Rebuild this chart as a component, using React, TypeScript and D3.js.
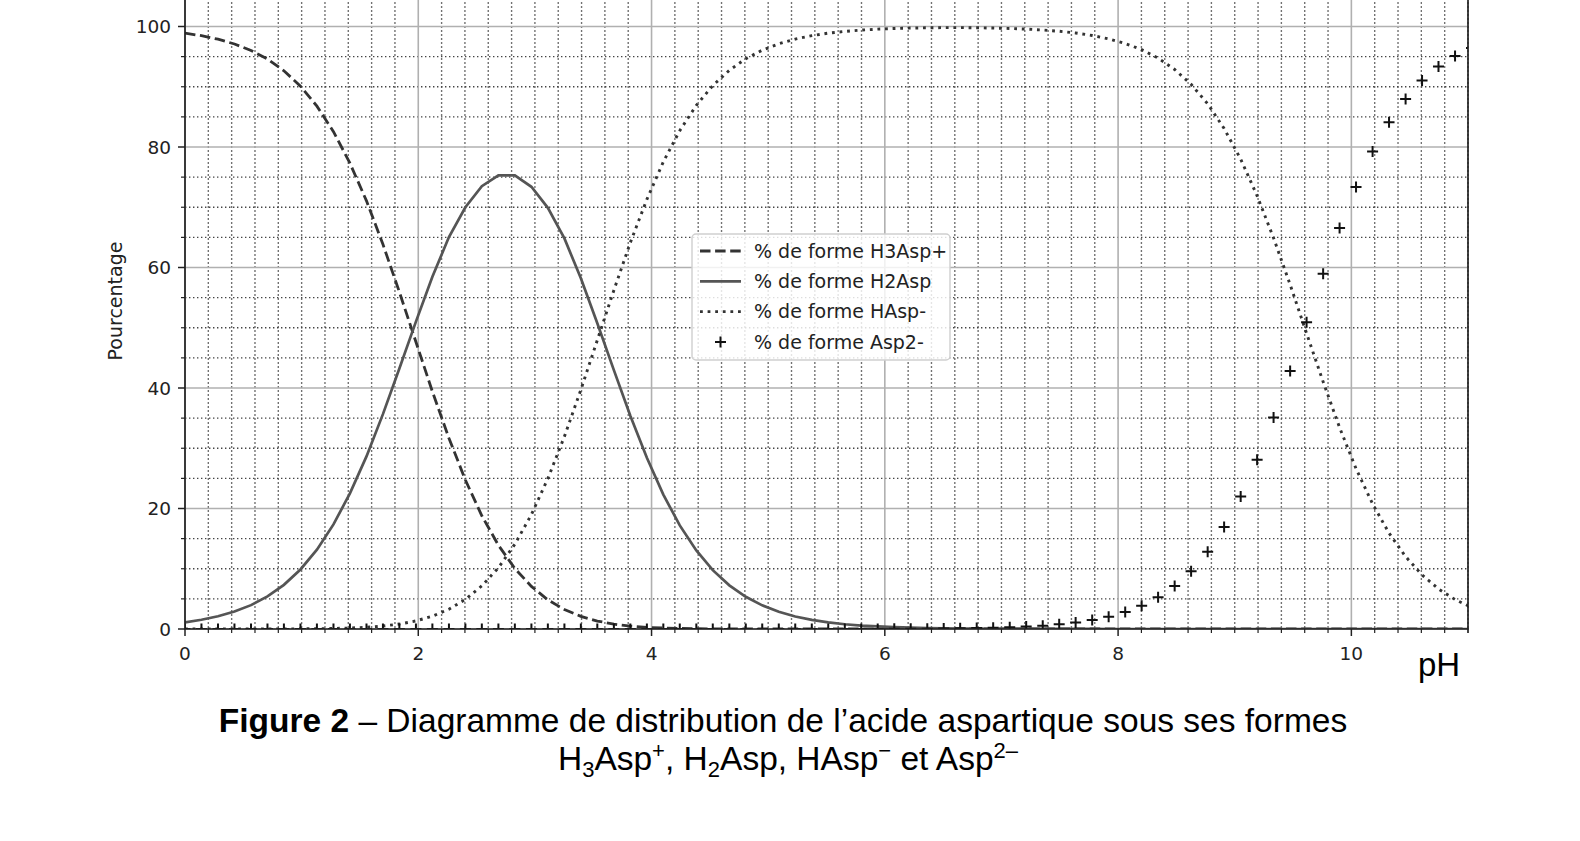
import * as d3 from "d3";

// pH sampling of the original figure (visible part, up to the right edge)
const phValues = [
  0, 0.141, 0.283, 0.424, 0.566, 0.707, 0.848, 0.99, 1.131, 1.273, 1.414, 1.556, 1.697, 1.838, 1.98, 2.121, 2.263, 2.404,
  2.545, 2.687, 2.828, 2.97, 3.111, 3.253, 3.394, 3.535, 3.677, 3.818, 3.96, 4.101, 4.242, 4.384, 4.525, 4.667, 4.808,
  4.949, 5.091, 5.232, 5.374, 5.515, 5.657, 5.798, 5.939, 6.081, 6.222, 6.364, 6.505, 6.646, 6.788, 6.929, 7.071, 7.212,
  7.354, 7.495, 7.636, 7.778, 7.919, 8.061, 8.202, 8.343, 8.485, 8.626, 8.768, 8.909, 9.051, 9.192, 9.333, 9.475, 9.616,
  9.758, 9.899, 10.04, 10.182, 10.323, 10.465, 10.606, 10.747, 10.889, 11.03,
];

const h3Asp = [
  98.89, 98.47, 97.89, 97.1, 96.03, 94.59, 92.65, 90.1, 86.78, 82.55, 77.32, 71.06, 63.85, 55.93, 47.64, 39.41, 31.67,
  24.73, 18.79, 13.91, 10.04, 7.07, 4.84, 3.23, 2.09, 1.32, 0.81, 0.48, 0.28, 0.16, 0.09, 0.05, 0.03, 0.01, 0.01, 0, 0,
  0, 0, 0, 0, 0, 0, 0, 0, 0, 0, 0, 0, 0, 0, 0, 0, 0, 0, 0, 0, 0, 0, 0, 0, 0, 0, 0, 0, 0, 0, 0, 0, 0, 0, 0, 0, 0, 0, 0,
  0, 0, 0,
];

const h2Asp = [
  1.11, 1.53, 2.11, 2.89, 3.96, 5.41, 7.33, 9.88, 13.17, 17.36, 22.51, 28.65, 35.66, 43.25, 51.02, 58.46, 65.05, 70.0,
  73.5, 75.3, 75.3, 73.4, 69.9, 64.83, 58.2, 50.74, 42.97, 35.39, 28.41, 22.31, 17.19, 13.04, 9.77, 7.25, 5.35, 3.92,
  2.86, 2.08, 1.51, 1.1, 0.79, 0.57, 0.42, 0.3, 0.22, 0.16, 0.11, 0.08, 0.06, 0.04, 0.03, 0.02, 0.02, 0.01, 0.01, 0.01,
  0, 0, 0, 0, 0, 0, 0, 0, 0, 0, 0, 0, 0, 0, 0, 0, 0, 0, 0, 0, 0, 0, 0,
];

const hAsp = [
  0, 0, 0, 0, 0, 0.01, 0.01, 0.03, 0.05, 0.09, 0.16, 0.28, 0.49, 0.82, 1.34, 2.13, 3.28, 4.91, 7.16, 10.17, 14.07, 18.99,
  24.97, 31.94, 39.71, 47.94, 56.22, 64.13, 71.31, 77.53, 82.72, 86.91, 90.2, 92.73, 94.65, 96.08, 97.13, 97.91, 98.48,
  98.9, 99.19, 99.41, 99.56, 99.67, 99.74, 99.79, 99.81, 99.81, 99.79, 99.74, 99.67, 99.57, 99.42, 99.21, 98.92, 98.51,
  97.95, 97.19, 96.15, 94.75, 92.87, 90.4, 87.17, 83.07, 77.99, 71.9, 64.89, 57.16, 49.07, 41.03, 33.44, 26.62, 20.76,
  15.91, 12.02, 8.98, 6.65, 4.89, 3.58,
];

const asp2 = [
  0, 0, 0, 0, 0, 0, 0, 0, 0, 0, 0, 0, 0, 0, 0, 0, 0, 0, 0, 0, 0, 0, 0, 0, 0, 0, 0, 0, 0, 0, 0, 0, 0, 0, 0, 0, 0, 0, 0.01,
  0.01, 0.01, 0.02, 0.02, 0.03, 0.04, 0.06, 0.08, 0.11, 0.15, 0.21, 0.29, 0.41, 0.56, 0.78, 1.08, 1.48, 2.04, 2.81, 3.85,
  5.25, 7.12, 9.6, 12.83, 16.93, 22.01, 28.1, 35.11, 42.84, 50.93, 58.97, 66.56, 73.38, 79.24, 84.09, 87.98, 91.02, 93.35,
  95.11, 96.42,
];

const xMajorTicks = [0, 2, 4, 6, 8, 10];
const yMajorTicks = [0, 20, 40, 60, 80, 100];
const legendLabels = ["% de forme H3Asp+", "% de forme H2Asp", "% de forme HAsp-", "% de forme Asp2-"];

const chartFont = "DejaVu Sans, sans-serif";
const captionFont = "Liberation Sans, Arial, sans-serif";
const dashStyle = "10.5,4.6";
const dotStyle = "2.8,4.8";
const plusPath = "M-5.5,0H5.5M0,-5.5V5.5";

function App() {
  const x = d3.scaleLinear().domain([0, 11]).range([185, 1468]);
  const y = d3.scaleLinear().domain([0, 100]).range([629, 26.5]);
  const top = y(106);

  const minorX = d3.range(0, 56).filter((i) => i % 10 !== 0).map((i) => i * 0.2);
  const minorY = d3.range(0, 22).filter((j) => j % 4 !== 0).map((j) => j * 5);

  const line = (vals: number[]) =>
    d3
      .line<number>()
      .x((_, i) => x(phValues[i]))
      .y((d) => y(d))(vals) || "";

  const legendX = 692;
  const legendY = 234;
  const rowY = (i: number) => legendY + 17 + i * 30.3;

  return (
    <svg
      width={1580}
      height={841}
      style={{ position: "absolute", left: 0, top: 0, background: "#fff" }}
    >
      <defs>
        <clipPath id="plot-clip">
          <rect x={x(0)} y={top} width={x(11) - x(0)} height={y(0) - top} />
        </clipPath>
      </defs>

      {/* grid */}
      <g>
        {minorX.map((v) => (
          <line key={"mx" + v} x1={x(v)} x2={x(v)} y1={top} y2={y(0)} stroke="#444" strokeWidth={1.4} strokeDasharray="1.4,2.6" />
        ))}
        {minorY.map((v) => (
          <line key={"my" + v} x1={x(0)} x2={x(11)} y1={y(v)} y2={y(v)} stroke="#444" strokeWidth={1.4} strokeDasharray="1.4,2.6" />
        ))}
        {xMajorTicks.map((v) => (
          <line key={"gx" + v} x1={x(v)} x2={x(v)} y1={top} y2={y(0)} stroke="#b0b0b0" strokeWidth={1.6} />
        ))}
        {yMajorTicks.map((v) => (
          <line key={"gy" + v} x1={x(0)} x2={x(11)} y1={y(v)} y2={y(v)} stroke="#b0b0b0" strokeWidth={1.6} />
        ))}
      </g>

      {/* curves */}
      <g clipPath="url(#plot-clip)" fill="none">
        <path d={line(h3Asp)} stroke="#333" strokeWidth={2.8} strokeDasharray={dashStyle} />
        <path d={line(h2Asp)} stroke="#555" strokeWidth={2.7} />
        <path d={line(hAsp)} stroke="#333" strokeWidth={2.9} strokeDasharray={dotStyle} />
        {asp2.map((v, i) => (
          <path key={"p" + i} d={plusPath} transform={`translate(${x(phValues[i])},${y(v)})`} stroke="#111" strokeWidth={2} />
        ))}
      </g>

      {/* spines */}
      <g stroke="#222" strokeWidth={1.7}>
        <line x1={x(0)} x2={x(0)} y1={top} y2={y(0)} />
        <line x1={x(11)} x2={x(11)} y1={top} y2={y(0)} />
        <line x1={x(0) - 0.8} x2={x(11) + 0.8} y1={y(0)} y2={y(0)} />
      </g>

      {/* ticks */}
      <g stroke="#222" strokeWidth={1.2}>
        {minorX.concat([11]).map((v) => (
          <line key={"tx" + v} x1={x(v)} x2={x(v)} y1={y(0)} y2={y(0) + 4} />
        ))}
        {minorY.map((v) => (
          <line key={"ty" + v} x1={x(0) - 4} x2={x(0)} y1={y(v)} y2={y(v)} />
        ))}
        {xMajorTicks.map((v) => (
          <line key={"Tx" + v} x1={x(v)} x2={x(v)} y1={y(0)} y2={y(0) + 7} strokeWidth={1.5} />
        ))}
        {yMajorTicks.map((v) => (
          <line key={"Ty" + v} x1={x(0) - 7} x2={x(0)} y1={y(v)} y2={y(v)} strokeWidth={1.5} />
        ))}
      </g>
      <g fontFamily={chartFont} fontSize={18.5} fill="#222">
        {xMajorTicks.map((v) => (
          <text key={"lx" + v} x={x(v)} y={660} textAnchor="middle">
            {v}
          </text>
        ))}
        {yMajorTicks.map((v) => (
          <text key={"ly" + v} x={x(0) - 14} y={y(v) + 6.7} textAnchor="end">
            {v}
          </text>
        ))}
        <text transform="translate(122,301) rotate(-90)" textAnchor="middle" fontSize={19}>
          Pourcentage
        </text>
      </g>

      {/* legend */}
      <g fontFamily={chartFont} fontSize={19} fill="#222">
        <rect x={legendX} y={legendY} width={258} height={126} rx={4} fill="#fff" fillOpacity={0.82} stroke="#cfcfcf" strokeWidth={1.4} />
        <line x1={700} x2={741} y1={rowY(0)} y2={rowY(0)} stroke="#333" strokeWidth={2.8} strokeDasharray={dashStyle} />
        <line x1={700} x2={741} y1={rowY(1)} y2={rowY(1)} stroke="#555" strokeWidth={2.7} />
        <line x1={700} x2={741} y1={rowY(2)} y2={rowY(2)} stroke="#333" strokeWidth={2.9} strokeDasharray={dotStyle} />
        <path d={plusPath} transform={`translate(720.5,${rowY(3)})`} stroke="#111" strokeWidth={2} fill="none" />
        {legendLabels.map((t, i) => (
          <text key={t} x={754} y={rowY(i) + 6.8}>
            {t}
          </text>
        ))}
      </g>

      {/* axis name and caption */}
      <g fontFamily={captionFont} fill="#000">
        <text x={1418} y={676} fontSize={33}>
          pH
        </text>
        <text x={783} y={732} fontSize={33.5} textAnchor="middle">
          <tspan fontWeight="bold">Figure 2</tspan>
          <tspan> – Diagramme de distribution de l’acide aspartique sous ses formes</tspan>
        </text>
        <text x={788} y={770} fontSize={33.5} textAnchor="middle">
          <tspan>H</tspan>
          <tspan fontSize={22} dy={7}>3</tspan>
          <tspan dy={-7}>Asp</tspan>
          <tspan fontSize={22} dy={-12}>+</tspan>
          <tspan dy={12}>, H</tspan>
          <tspan fontSize={22} dy={7}>2</tspan>
          <tspan dy={-7}>Asp, HAsp</tspan>
          <tspan fontSize={22} dy={-12}>−</tspan>
          <tspan dy={12}> et Asp</tspan>
          <tspan fontSize={22} dy={-12}>2–</tspan>
        </text>
      </g>
    </svg>
  );
}

export default App;
